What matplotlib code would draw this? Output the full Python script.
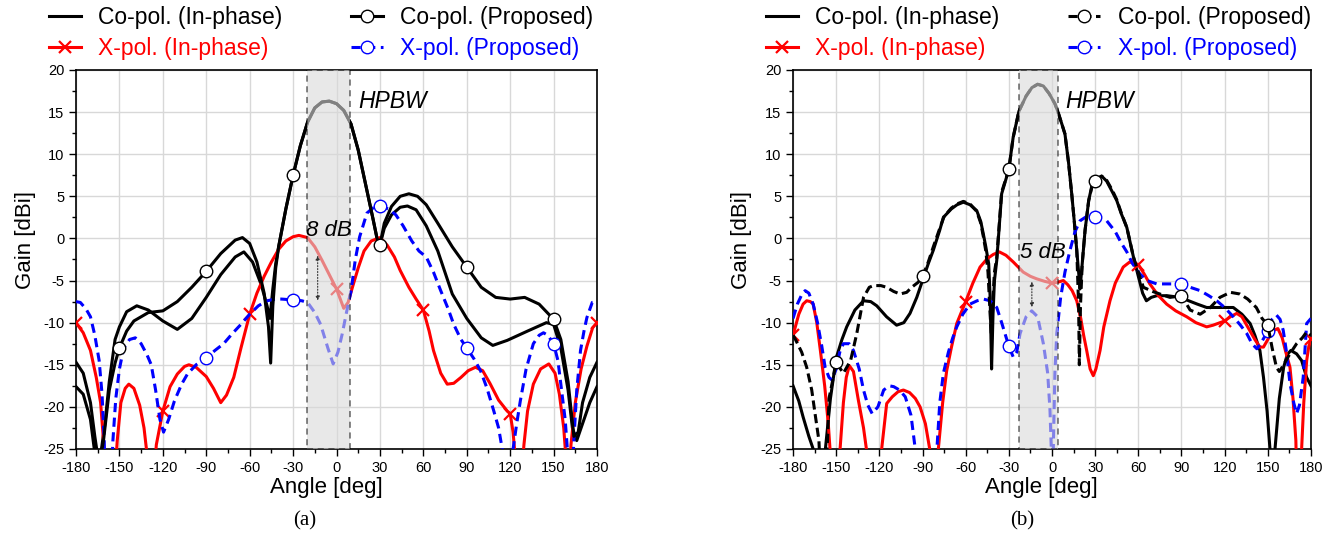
import matplotlib
matplotlib.use("Agg")
import matplotlib.pyplot as plt
from matplotlib.patches import Rectangle
from matplotlib.ticker import MultipleLocator

plt.rcParams['font.family'] = ['Liberation Sans', 'DejaVu Sans']
plt.rcParams['axes.unicode_minus'] = False

# ---------------- panel (a) ----------------
a_co_in_ang = [-180, -175, -170, -167, -164, -160, -157, -153, -150, -145, -138, -130, -120, -110, -100, -90,
               -80, -70, -64, -58, -52, -48, -46, -44, -42, -40, -35, -30, -25, -20, -15, -10, -5, 0, 5, 10,
               15, 20, 25, 28, 30, 33, 38, 44, 49, 55, 62, 70, 80, 90, 100, 108, 118, 132, 145, 150, 155,
               160, 163, 166, 170, 175, 180]
a_co_in_gain = [-17.6, -18.5, -21.5, -25.5, -27, -22, -17, -12, -10.5, -8.7, -8.0, -8.5, -9.8, -10.8, -9.5, -7,
                -4.3, -2.2, -1.6, -2.8, -5.5, -8, -9.5, -6, -3, -1, 3.5, 7.5, 11, 13.8, 15.5, 16.2, 16.3, 16, 15.2, 13.6,
                10.5, 6.5, 2.5, 0, -0.8, 1.2, 2.8, 3.7, 3.85, 3.4, 1.5, -1.5, -6.6, -9.5, -11.8, -12.7, -12.1, -11, -10, -10.2, -13,
                -18, -22.5, -24, -22, -19.5, -17.6]

a_co_pr_ang = [-180, -175, -170, -167, -164, -161, -157, -153, -150, -145, -140, -130, -120, -110, -100, -90,
               -80, -70, -65, -60, -55, -50, -47, -45.5, -44, -42, -40, -35, -30, -25, -20, -15, -10, -5, 0, 5,
               10, 15, 20, 25, 28, 30, 33, 38, 44, 50, 56, 62, 70, 80, 90, 100, 110, 120, 130, 140, 150, 155,
               160, 164, 167, 170, 175, 180]
a_co_pr_gain = [-14.7, -16, -19.5, -23.5, -27, -24, -18, -14.8, -13, -11, -9.8, -8.8, -8.6, -7.5, -5.8, -3.9,
                -1.8, -0.2, 0.1, -0.6, -2.8, -6.5, -10.5, -14.8, -8, -3.5, -1, 3.5, 7.5, 11, 13.8, 15.5, 16.2, 16.3, 16, 15.2,
                13.6, 10.5, 6.5, 2.5, 0, -0.8, 1.8, 3.8, 5, 5.3, 5, 4, 1.8, -1, -3.4, -5.8, -7, -7.2, -7, -7.8, -9.6, -12,
                -17, -23.5, -23, -19.5, -16.5, -14.7]

a_x_in_ang = [-180, -175, -170, -166, -163, -161, -160, -153, -151.5, -149, -146, -143.5, -140, -136, -133, -131,
              -130, -126, -124.5, -120, -115, -110, -105, -102, -97, -90, -85, -80, -76, -71, -66, -60, -55, -50,
              -45, -40, -35, -30, -26, -20, -15, -10, -5, 0, 5, 8, 11, 15, 19, 24, 30, 35, 40, 44, 50, 55, 60,
              64, 67, 72, 76.5, 81, 86, 91, 96, 101, 106, 112, 118, 120, 122, 123.5, 124, 128, 129.5, 132, 136,
              141, 146.7, 151, 154, 157, 158.5, 159, 161, 162, 165, 169, 173, 177, 180]
a_x_in_gain = [-10, -11.2, -13.3, -16.5, -19.5, -24, -28, -28, -24, -19.5, -17.8, -17.3, -17.8, -19.8, -22.5, -25.5,
               -28, -28, -24.5, -20.5, -17.6, -16.1, -15.2, -15.0, -15.3, -16.4, -17.8, -19.5, -18.6, -16.5, -13, -9, -6.5, -4.5,
               -2.8, -1.3, -0.3, 0.2, 0.36, 0.1, -1, -2.6, -4.3, -6, -8.3, -7.6, -5.8, -3.5, -1.5, -0.3, 0.1, -0.8, -2.2, -3.8, -5.8, -7.2, -8.5,
               -11, -13.3, -16, -17.3, -17.2, -16.5, -15.7, -15.3, -15.7, -17.2, -19.2, -20.5, -20.8, -23, -26, -28, -28, -24.5, -20.5, -17.3,
               -15.5, -14.9, -16, -18.5, -22.5, -26, -28, -28, -24.5, -19.5, -15.5, -12.8, -10.6, -10]

a_x_pr_ang = [-180, -177, -173, -170, -167, -164, -162, -160.5, -160, -155.5, -154.5, -152.5, -150, -147, -143, -139,
              -135, -131, -128, -125, -122, -119.5, -116, -112, -107, -103, -97, -90, -84, -78, -72, -66, -60, -54,
              -48, -42, -38, -30, -24, -20, -15, -11, -6, -2.3, 1, 4, 7, 10, 13, 16, 21, 25, 30, 36, 41, 46, 52,
              57, 62, 67, 72, 77, 81, 86, 90, 95, 99.5, 104, 108.7, 112, 114.5, 115, 121, 122, 124.5, 127, 131, 136,
              140, 143, 146, 150, 153, 155, 158, 159.5, 160, 163, 164, 166, 168.6, 171, 173, 176.7, 180]
a_x_pr_gain = [-7.5, -7.6, -8.4, -9.3, -11.5, -14.5, -18.5, -24, -28, -28, -24, -19, -15.5, -13, -12, -11.8,
               -12.5, -13.8, -15, -18, -21.5, -23, -21.5, -19.3, -17.3, -16.1, -15, -14.2, -13.3, -12.5, -11.3, -10.2, -9, -8,
               -7.4, -7.2, -7.2, -7.3, -7.4, -7.6, -8.8, -10.2, -13, -14.9, -13.5, -11.3, -8.7, -6.3, -2.5, 0.2, 3.0, 3.6, 3.8, 3.5, 2.8, 1.5, -0.3,
               -1.5, -2.2, -4, -6.2, -8.3, -10.2, -12, -13, -14.3, -15.7, -17.8, -20.5, -22.5, -25, -28, -28, -25, -22, -19.3, -15.5, -12.5,
               -11.5, -11.2, -11.5, -12.5, -14.5, -17.3, -21.5, -25, -28, -28, -24, -18, -13.3, -11, -9.4, -7.6, -7.5]

# ---------------- panel (b) ----------------
b_co_in_ang = [-180, -176, -173, -169, -166, -165, -159, -157.5, -154, -150, -146, -142.7, -137, -131, -126, -121.8,
               -115, -108, -103, -98.7, -94, -90, -86, -82.5, -78, -75.5, -70, -66, -61.6, -57, -52.3, -49.5, -47.7,
               -46, -44, -43, -42, -41, -40, -38.4, -35, -30, -27, -23, -18, -14, -10, -6, -2, 2, 4, 7, 9, 11.5,
               13.7, 15.5, 17.2, 18.5, 19.5, 21, 23, 25.5, 28, 30, 34.5, 38, 42, 45, 48, 52, 56.6, 60, 63, 65.6, 69,
               72.8, 80, 89, 95, 101, 107.5, 115, 126, 132, 137.7, 141, 144.5, 147, 149.5, 151.5, 152, 154.5, 155,
               158, 161, 163.5, 166, 170, 173.5, 177, 180]
b_co_in_gain = [-17.5, -19.3, -21.2, -23.5, -25, -28, -28, -25, -19, -14.2, -12, -10.5, -8.5, -7.4, -7.5, -8,
                -9.3, -10.3, -10, -8.9, -7, -5, -3, -1.4, 1, 2.5, 3.5, 4, 4.3, 4, 3.3, 2, 0.5,
                -1, -3, -7, -15.5, -9, -5, -2.6, 5.3, 8.2, 12, 15.1, 16.9, 17.9, 18.3, 18.1, 17.2, 16, 15.1, 13.5, 12.4, 9,
                5.3, 2, -1.4, -4, -6, -3, 1, 4.5, 6.5, 7.0, 7.4, 6.8, 5.5, 4.5, 3, 1.3, -2.2, -4.5, -6.5, -7.4, -7.0,
                -6.8, -6.8, -7, -7.4, -7.8, -8.2, -8.2, -8.2, -9, -10.1, -11.5, -13.3, -16.5, -20.5, -25, -28, -28, -25,
                -19, -15.3, -13.8, -13.3, -13.7, -14.5, -16.5, -17.5]

b_co_pr_ang = [-180, -178.6, -174, -170.5, -167, -164.7, -162, -161, -158, -156, -155, -152, -150, -147, -145, -140,
               -135.7, -131, -127, -124, -119, -115, -110, -105.6, -101, -97.5, -93, -90, -86, -82.5, -78, -75, -70,
               -66, -61.6, -57, -52.3, -49.5, -47.7, -46, -44.5, -43, -42, -41, -40, -38.4, -35, -30, -27, -23, -18,
               -14, -10, -6, -2, 2, 4, 7, 9, 11.5, 13.7, 15.5, 17.2, 18.5, 19, 19.8, 21, 23, 25.5, 28, 30, 34.5, 38,
               42, 45, 48, 52, 56.6, 60, 63.5, 70, 75, 82, 90, 96, 103, 110, 116.7, 124, 130.6, 136, 142, 146, 150,
               153, 156, 158, 160.7, 165, 170, 174, 177, 180]
b_co_pr_gain = [-11.5, -11.9, -13.5, -15.3, -18, -20.8, -24, -28, -28, -24, -19, -16.5, -14.7, -15.5, -16, -14.5,
                -11.3, -7, -5.8, -5.6, -5.6, -5.8, -6.3, -6.6, -6.4, -5.8, -5.2, -4.5, -2.8, -1, 1.2, 2.6, 3.6,
                4.1, 4.4, 4.1, 3.2, 1.8, 0.2, -1.5, -4, -9, -12, -7, -4, -2.3, 5.5, 8.2, 12, 15.1, 16.9,
                17.9, 18.3, 18.1, 17.2, 16, 15.1, 13.5, 12.4, 9, 5.3, 2, -1.4, -8, -15, -8, -3, 1, 4.5, 6.3, 6.8, 7.4, 6.9,
                5.7, 4.6, 3.1, 1.3, -2.2, -4, -5.8, -6.3, -6.6, -7, -6.8, -8.5, -9, -8.2, -7, -6.4, -6.6, -7.2, -8.2, -9.5, -10.3,
                -13, -15.3, -15.8, -15.1, -13.8, -12.5, -11.8, -11.1, -11.5]

b_x_in_ang = [-180, -176, -173, -170.5, -168, -166, -163.5, -161, -158, -155.5, -154.3, -154, -148, -147.3, -145,
              -143, -140.9, -138, -134.6, -131, -129, -128.5, -119, -118.4, -114.9, -111, -107, -103.3, -99, -95,
              -91.7, -88, -85, -84.5, -79.5, -79, -76, -73.2, -70, -66.2, -60, -55, -50, -45, -40.8, -36.6, -32,
              -26.9, -20, -15, -10.6, -5, 0, 4, 7.9, 11, 14, 17.2, 20, 22, 24.1, 26.5, 28.7, 30.5, 33.4, 36, 40.3,
              44, 49.5, 54, 60, 64, 68, 74, 79.7, 86, 93.6, 100, 107.5, 112, 120, 124, 128.4, 132, 136, 141, 144.5,
              147, 150, 153, 157, 160, 162.5, 165.4, 167.5, 169.5, 170, 173, 173.5, 175, 177, 178.5, 180]
b_x_in_gain = [-11.5, -9, -7.8, -7.4, -7.5, -7.8, -10, -13.3, -17.5, -22, -25, -28, -28, -25, -19.5,
               -16.5, -15.1, -15.8, -19.2, -22.5, -25, -28, -28, -25, -19.6, -18.8, -18.2, -18, -18.3, -19,
               -20, -22, -25, -28, -28, -25, -19.5, -15.7, -13, -10.1, -7.5, -5.3, -3.4, -2.4, -1.9, -1.6, -2,
               -2.8, -4, -4.5, -4.8, -5.1, -5.3, -5.2, -5, -5.5, -6.2, -7.4, -9.5, -11.5, -13.3, -15.5, -16.3, -15.5, -13.3, -10.5, -7.4,
               -5.3, -3.4, -2.8, -3.1, -4.2, -5.4, -6.8, -7.8, -8.6, -9.3, -10, -10.5, -10.3, -9.8, -9.3, -8.9, -9.3, -10.5, -12, -12.9,
               -12.9, -12, -11, -10.7, -11.8, -13.5, -15.3, -19, -24, -28, -28, -25, -19.5, -14.5, -12.8, -12]

b_x_pr_ang = [-180, -177, -174, -171.6, -169, -166, -163, -160, -157.7, -155, -153, -150, -147.5, -145, -141,
              -138, -134, -131, -128, -125, -121, -117, -113, -110, -106, -102, -98, -95.2, -94, -80.5, -80, -78,
              -75.5, -72, -69, -66.2, -62, -57, -52, -47.7, -43, -38.4, -35, -30, -26.9, -24.5, -22.2, -18, -14.1,
              -10, -6, -3, -1.4, -0.5, 0, 0.5, 0.9, 2, 3.3, 6, 9, 12.5, 16, 19.5, 24, 30, 34, 38, 44, 48, 52, 56,
              61, 66, 72.8, 80, 90, 96, 103, 109, 114.5, 120, 126, 131, 135.4, 139, 142.4, 145, 150, 153, 156,
              158.5, 160.7, 163, 165.4, 168, 170, 172, 174.6, 177, 180]
b_x_pr_gain = [-9.5, -7.8, -6.7, -6.2, -6.5, -7.8, -10, -12.8, -15.3, -16.5, -16.8, -15.5, -13.5, -12.5, -12.5,
               -13.3, -15.5, -18, -19.8, -20.8, -20, -18, -17.5, -17.6, -18, -18.8, -21, -24.8, -28, -28, -25, -19.5,
               -16, -13.5, -11.8, -10.5, -9, -7.8, -7.4, -7.2, -7.4, -8.2, -10, -12.8, -14.1, -13.5, -11.3, -9.3, -8.6,
               -9.3, -12.5, -16, -20.4, -25, -28, -28, -25, -16, -11.3, -7, -4, -1.4, 0.8, 2.1, 2.6, 2.5, 2.3, 2.1, 0.8, -0.5, -1.6, -3,
               -4.2, -5, -5.4, -5.4, -5.4, -5.8, -6.2, -6.8, -7.4, -8.2, -9.3, -10.3, -11.3, -12.5, -13.1, -12.5, -11, -9.6, -9.1,
               -9.6, -10.9, -13.5, -17.2, -19.5, -20.8, -19.8, -16.5, -10.1, -9.5]

# markers sit on these angles
co_mark_ang = [-150, -90, -30, 30, 90, 150]
xin_mark_ang = [-180, -120, -60, 0, 60, 120, 180]
xpr_mark_ang = [-90, -30, 30, 90, 150]

labels = ["Co-pol. (In-phase)", "X-pol. (In-phase)", "Co-pol. (Proposed)", "X-pol. (Proposed)"]


def mask(ang, marks):
    return [a in marks for a in ang]


def panel(ax, co_in, co_pr, x_in, x_pr, pr_style, hpbw, arrow, dbtxt):
    l1, = ax.plot(co_in[0], co_in[1], color='black', lw=2.2, zorder=3)
    l3, = ax.plot(co_pr[0], co_pr[1], color='black', lw=2.2, ls=pr_style, marker='o', ms=9,
                  mfc='white', mec='black', mew=1.0, markevery=mask(co_pr[0], co_mark_ang), zorder=4)
    l2, = ax.plot(x_in[0], x_in[1], color='red', lw=2.2, marker='x', ms=8, mew=1.6,
                  markevery=mask(x_in[0], xin_mark_ang), zorder=3)
    l4, = ax.plot(x_pr[0], x_pr[1], color='blue', lw=2.2, ls=(0, (3, 1.8)), marker='o', ms=9,
                  mfc='white', mec='blue', mew=1.0, markevery=mask(x_pr[0], xpr_mark_ang), zorder=3)

    ax.add_patch(Rectangle((hpbw[0], -25), hpbw[1] - hpbw[0], 45, facecolor='#d9d9d9', alpha=0.6,
                           edgecolor='black', ls=(0, (4, 3)), lw=1.1, zorder=5))
    ax.annotate('', xy=(arrow[0], arrow[2]), xytext=(arrow[0], arrow[1]),
                arrowprops=dict(arrowstyle='<|-|>', color='#333333', lw=0.8, ls=':', mutation_scale=6),
                zorder=6)
    ax.text(hpbw[1] + 5.5, 16.3, 'HPBW', fontsize=16.5, style='italic', va='center', zorder=6)
    ax.text(dbtxt[0], dbtxt[1], dbtxt[2], fontsize=16, style='italic', va='center', zorder=6)

    ax.set_xlim(-180, 180)
    ax.set_ylim(-25, 20)
    ax.xaxis.set_major_locator(MultipleLocator(30))
    ax.xaxis.set_minor_locator(MultipleLocator(15))
    ax.yaxis.set_major_locator(MultipleLocator(5))
    ax.yaxis.set_minor_locator(MultipleLocator(2.5))
    ax.tick_params(which='both', direction='out', labelsize=10.5, width=1)
    ax.tick_params(which='major', length=5)
    ax.tick_params(which='minor', length=3)
    ax.grid(True, which='major', color='#d8d8d8', lw=1.0, zorder=0)
    ax.set_axisbelow(True)
    for s in ax.spines.values():
        s.set_linewidth(1.2)

    ax.legend([l1, l2, l3, l4], labels, ncol=2, loc='lower left', bbox_to_anchor=(-0.052, 1.025),
              frameon=False, fontsize=16.5, handlelength=1.4, handletextpad=0.75, columnspacing=3.0,
              labelspacing=0.36, borderpad=0, borderaxespad=0, numpoints=1,
              labelcolor=['black', 'red', 'black', 'blue'])


fig = plt.figure(figsize=(13.38, 5.42), dpi=100)
ax1 = fig.add_axes([0.0568, 0.1716, 0.3894, 0.6993])
ax2 = fig.add_axes([0.5927, 0.1716, 0.3871, 0.6993])

panel(ax1, (a_co_in_ang, a_co_in_gain), (a_co_pr_ang, a_co_pr_gain), (a_x_in_ang, a_x_in_gain),
      (a_x_pr_ang, a_x_pr_gain), '-', (-20.5, 9.5), (-13, -1.7, -7.7), (-21, 1, '8 dB'))
panel(ax2, (b_co_in_ang, b_co_in_gain), (b_co_pr_ang, b_co_pr_gain), (b_x_in_ang, b_x_in_gain),
      (b_x_pr_ang, b_x_pr_gain), (0, (3, 1.5)), (-23, 4), (-14, -4.8, -8.5), (-22, -1.7, '5 dB'))

fig.text(326 / 1338, 1 - 488 / 542, 'Angle [deg]', fontsize=16, ha='center', va='center')
fig.text(1041 / 1338, 1 - 488 / 542, 'Angle [deg]', fontsize=16, ha='center', va='center')
fig.text(25 / 1338, 1 - 240 / 542, 'Gain [dBi]', fontsize=16, ha='center', va='center', rotation=90)
fig.text(742 / 1338, 1 - 240 / 542, 'Gain [dBi]', fontsize=16, ha='center', va='center', rotation=90)
fig.text(305 / 1338, 1 - 521 / 542, '(a)', fontsize=15, ha='center', va='center', family='Liberation Serif')
fig.text(1022 / 1338, 1 - 521 / 542, '(b)', fontsize=15, ha='center', va='center', family='Liberation Serif')

fig.savefig('out.png', dpi=100)
